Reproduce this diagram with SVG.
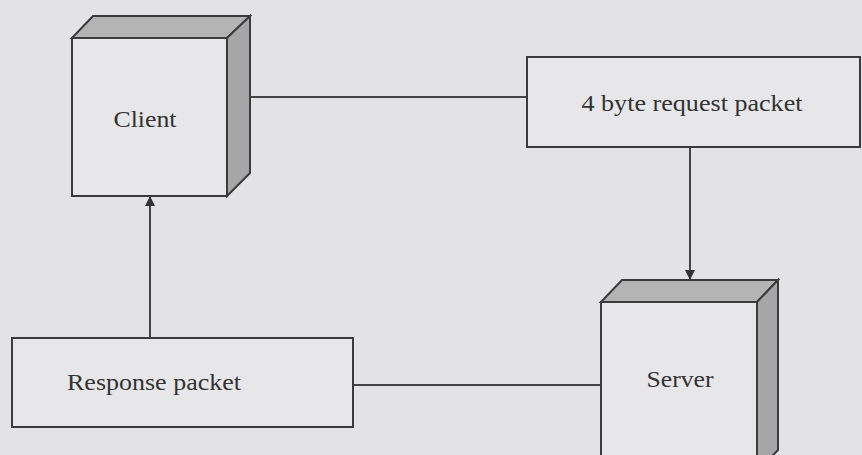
<svg xmlns="http://www.w3.org/2000/svg" width="862" height="455" viewBox="0 0 862 455">
<defs>
<style>
.face{fill:#e7e7e9;stroke:#3b3b3b;stroke-width:2}
.top{fill:#b4b4b4;stroke:#3b3b3b;stroke-width:2}
.side{fill:#a6a6a6;stroke:#3b3b3b;stroke-width:2}
.box{fill:#e7e7e9;stroke:#3b3b3b;stroke-width:2}
.lbl{font-family:"Liberation Serif","Times New Roman",serif;font-size:23px;fill:#333}
.conn{stroke:#444;stroke-width:2;fill:none}
</style>
<marker id="arr" markerWidth="10" markerHeight="10" refX="9" refY="5" orient="auto" markerUnits="userSpaceOnUse">
<path d="M0,0 L10,5 L0,10 z" fill="#333"/>
</marker>
</defs>
<rect width="862" height="455" fill="#e3e3e5"/>
<g id="connectors">
<line class="conn" x1="250" y1="97" x2="527" y2="97"/>
<line class="conn" x1="690" y1="147" x2="690" y2="279" marker-end="url(#arr)"/>
<line class="conn" x1="150" y1="338" x2="150" y2="197" marker-end="url(#arr)"/>
<line class="conn" x1="353" y1="385" x2="601" y2="385"/>
</g>
<g id="client">
<polygon class="top" points="72,38 93,16 250,16 227,38"/>
<polygon class="side" points="227,38 250,16 250,173 227,196"/>
<rect class="face" x="72" y="38" width="155" height="158"/>
<text class="lbl" x="145" y="127" text-anchor="middle" textLength="63" lengthAdjust="spacingAndGlyphs">Client</text>
</g>
<g id="request">
<rect class="box" x="527" y="57" width="333" height="90"/>
<text class="lbl" x="692" y="111" text-anchor="middle" textLength="221" lengthAdjust="spacingAndGlyphs">4 byte request packet</text>
</g>
<g id="server">
<polygon class="top" points="601,302 622,280 778,280 757,302"/>
<polygon class="side" points="757,302 778,280 778,450 757,472"/>
<rect class="face" x="601" y="302" width="156" height="170"/>
<text class="lbl" x="680" y="387" text-anchor="middle" textLength="67" lengthAdjust="spacingAndGlyphs">Server</text>
</g>
<g id="response">
<rect class="box" x="12" y="338" width="341" height="89"/>
<text class="lbl" x="154" y="390" text-anchor="middle" textLength="174" lengthAdjust="spacingAndGlyphs">Response packet</text>
</g>
</svg>
